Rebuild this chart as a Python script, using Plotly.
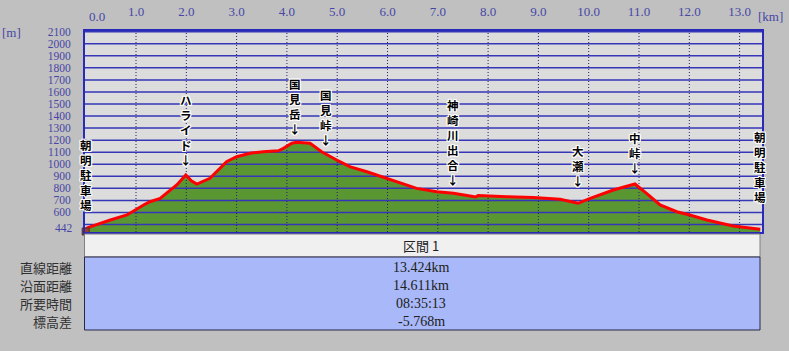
import plotly.graph_objects as go

W, H = 789, 351

# ---- data ----
dist_km = [0.0, 0.10, 0.49, 0.82, 1.15, 1.28, 1.48, 1.61, 1.81, 1.99, 2.10, 2.21, 2.47,
           2.80, 3.00, 3.27, 3.53, 3.83, 3.93, 4.10, 4.19, 4.46, 4.69, 4.99, 5.25, 5.59,
           5.92, 6.25, 6.58, 6.98, 7.31, 7.64, 7.75, 7.80, 7.97, 8.37, 8.90, 9.43, 9.79,
           10.03, 10.49, 10.92, 11.15, 11.42, 11.75, 12.01, 12.35, 12.87, 13.41]
elev_m = [466, 482, 537, 579, 662, 689, 717, 759, 828, 911, 862, 836, 883,
          1021, 1063, 1091, 1104, 1112, 1132, 1174, 1182, 1174, 1104, 1035, 980, 938,
          892, 842, 800, 772, 759, 736, 728, 740, 736, 730, 725, 709, 676,
          717, 786, 836, 759, 662, 606, 579, 537, 487, 460]

km_ticks = list(range(0, 14))
km_tick_text = [f"{v:.1f}" for v in km_ticks]
m_grid = list(range(500, 2101, 100))
m_ticks = list(range(600, 2101, 100))
base_m = 442

waypoint_names = ["朝明駐車場", "ハライド", "国見岳", "国見峠", "神崎川出合", "大瀬", "中峠", "朝明駐車場"]
waypoint_km = [0.0, 1.99, 4.16, 4.77, 7.30, 9.79, 10.92, 13.40]
waypoint_tip_m = [578, 952, 1209, 1120, 790, 776, 890, 645]
waypoint_arrow = [False, True, True, True, True, True, True, False]

section_title = "区間 1"
row_labels = ["直線距離", "沿面距離", "所要時間", "標高差"]
row_values = ["13.424km", "14.611km", "08:35:13", "-5.768m"]

# ---- geometry helpers (pixel -> paper) ----
def px(x):
    return x / W

def py(y):
    return 1 - y / H

PL, PR, PT, PB = 85, 762, 31, 232
x_scale = 50.3
y_scale = (231.5 - 31.7) / (2100 - base_m)
x_range = [-0.7 / x_scale, (PR - PL - 0.7) / x_scale]
y_range = [base_m - 0.5 / y_scale, 2100 + 0.7 / y_scale]

fig = go.Figure()

# terrain fill
fig.add_trace(go.Scatter(x=dist_km, y=elev_m, mode="lines", fill="tozeroy",
                         fillcolor="#5a9632", line=dict(width=0, color="#5a9632"),
                         hoverinfo="skip", showlegend=False))

# gridlines drawn above the fill
gx, gy = [], []
for m in m_grid:
    gx += [x_range[0], x_range[1], None]
    gy += [m, m, None]
fig.add_trace(go.Scatter(x=gx, y=gy, mode="lines", line=dict(color="#3636b8", width=1.5),
                         hoverinfo="skip", showlegend=False))
vx, vy = [], []
for k in km_ticks[1:]:
    vx += [k, k, None]
    vy += [y_range[0], y_range[1], None]
fig.add_trace(go.Scatter(x=vx, y=vy, mode="lines",
                         line=dict(color="#22226a", width=1, dash="1px,2px"),
                         hoverinfo="skip", showlegend=False))

# profile line
fig.add_trace(go.Scatter(x=dist_km, y=elev_m, mode="lines",
                         line=dict(color="#ff0000", width=3),
                         hoverinfo="skip", showlegend=False))

# hiker marker at the start
fig.add_trace(go.Scatter(x=[dist_km[0]], y=[base_m], mode="markers",
                         marker=dict(symbol="square", size=7, color="#a03a30",
                                     line=dict(color="#503020", width=1)),
                         hoverinfo="skip", showlegend=False, cliponaxis=False))

tick_font = dict(family="Liberation Serif", size=13, color="#4646a6")
ytick_font = dict(family="Liberation Serif", size=11.5, color="#4646a6")

fig.update_layout(
    template="none",
    width=W, height=H,
    margin=dict(l=0, r=0, t=0, b=0, pad=0, autoexpand=False),
    paper_bgcolor="#c0c0c0",
    plot_bgcolor="#dcdcdc",
    showlegend=False,
    xaxis=dict(domain=[px(PL), px(PR)], range=x_range, side="top", automargin=False,
               tickvals=km_ticks[1:], ticktext=km_tick_text[1:], tickfont=tick_font,
               showgrid=False, zeroline=False, showline=True, mirror=True,
               linecolor="#2a2ab8", linewidth=2, ticks="", ticklabelstandoff=8),
    yaxis=dict(domain=[py(PB), py(PT)], range=y_range, automargin=False,
               tickvals=m_ticks, ticktext=[str(v) for v in m_ticks], tickfont=ytick_font,
               showgrid=False, zeroline=False, showline=True, mirror=True,
               linecolor="#2a2ab8", linewidth=2, ticks="", ticklabelstandoff=10),
)

shadow = ("1px 0 0 #fff, -1px 0 0 #fff, 0 1px 0 #fff, 0 -1px 0 #fff, "
          "1px 1px 0 #fff, -1px -1px 0 #fff, 1px -1px 0 #fff, -1px 1px 0 #fff")

annotations = []
# 0.0 label (shifted right like the original)
annotations.append(dict(x=0, y=py(16), xref="x", yref="paper", text=km_tick_text[0],
                        showarrow=False, xshift=11, font=tick_font,
                        xanchor="center", yanchor="middle"))
annotations.append(dict(x=px(770), y=py(16), xref="paper", yref="paper", text="[km]",
                        showarrow=False, font=tick_font, xanchor="center", yanchor="middle"))
annotations.append(dict(x=px(11), y=py(32), xref="paper", yref="paper", text="[m]",
                        showarrow=False, font=tick_font, xanchor="center", yanchor="middle"))
# 442 base label
annotations.append(dict(x=px(75), y=base_m, xref="paper", yref="y", text=str(base_m),
                        showarrow=False, font=ytick_font, xanchor="right", yanchor="middle",
                        yshift=4))

for name, k, tip, arr in zip(waypoint_names, waypoint_km, waypoint_tip_m, waypoint_arrow):
    txt = "<br>".join(list(name)) + ("<br>\u2193" if arr else "")
    annotations.append(dict(x=k, y=tip, xref="x", yref="y", text=txt, showarrow=False,
                            xanchor="center", yanchor="bottom",
                            font=dict(family="Noto Sans CJK JP", size=11.5, color="#000000",
                                      weight="bold", shadow=shadow)))

# table
TL, TR = 84.5, 760
shapes = [
    dict(type="rect", xref="paper", yref="paper", x0=px(TL), x1=px(TR), y0=py(257), y1=py(234),
         fillcolor="#f0f0f0", line=dict(color="#808080", width=1), layer="above"),
    dict(type="rect", xref="paper", yref="paper", x0=px(TL), x1=px(TR), y0=py(330), y1=py(257),
         fillcolor="#a8b8f8", line=dict(color="#282848", width=1), layer="above"),
]
annotations.append(dict(x=px(421), y=py(246), xref="paper", yref="paper", text=section_title,
                        showarrow=False, xanchor="center", yanchor="middle",
                        font=dict(family="Noto Sans CJK JP", size=13, color="#202020")))
for i, (lab, val) in enumerate(zip(row_labels, row_values)):
    yc = 267 + i * 18.3
    annotations.append(dict(x=px(74), y=py(yc), xref="paper", yref="paper", text=lab,
                            showarrow=False, xanchor="right", yanchor="middle",
                            font=dict(family="Noto Sans CJK JP", size=13, color="#303030")))
    annotations.append(dict(x=px(421), y=py(yc), xref="paper", yref="paper", text=val,
                            showarrow=False, xanchor="center", yanchor="middle",
                            font=dict(family="Liberation Serif", size=14, color="#202020")))

fig.update_layout(annotations=annotations, shapes=shapes)
fig.write_html("out.html")
